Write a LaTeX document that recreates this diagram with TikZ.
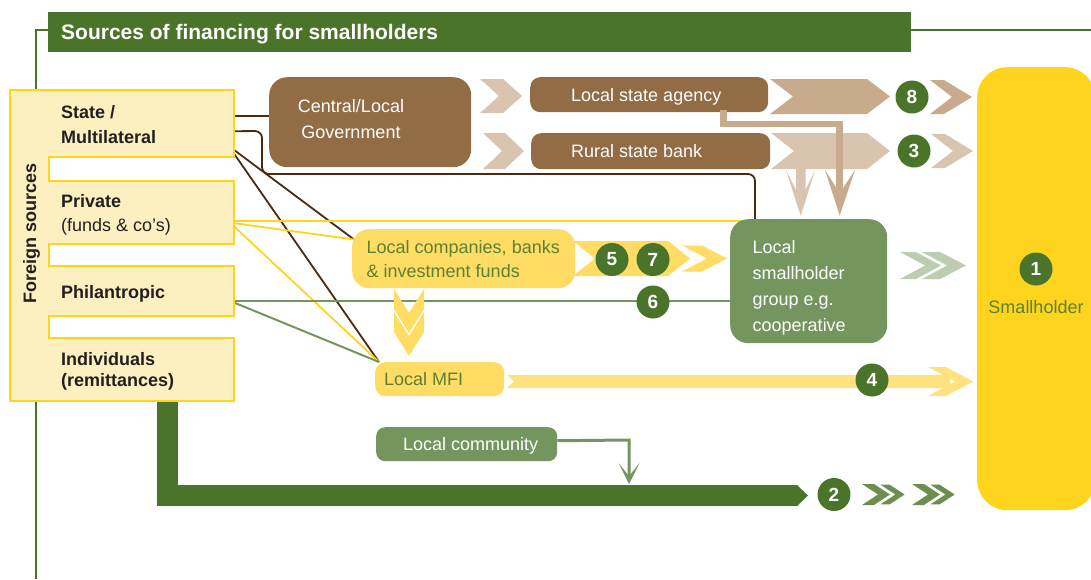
\documentclass[tikz,border=0pt]{standalone}
\usepackage{fontspec}
\setmainfont{Liberation Sans}
\definecolor{cDG}{HTML}{4A742A}
\definecolor{cMG}{HTML}{74965E}
\definecolor{cLG}{HTML}{BCCDB1}
\definecolor{cCG}{HTML}{6C8F50}
\definecolor{cBr}{HTML}{916C44}
\definecolor{cDT}{HTML}{C8AB8C}
\definecolor{cLT}{HTML}{D9C5AF}
\definecolor{cDB}{HTML}{4B2A0F}
\definecolor{cY}{HTML}{FED41E}
\definecolor{cLY}{HTML}{FDF0C0}
\definecolor{cGold}{HTML}{FFDC64}
\definecolor{cPale}{HTML}{FFE27E}
\definecolor{cGT}{HTML}{5C8034}
\definecolor{cTxt}{HTML}{231F20}
\pgfdeclarelayer{bg}
\pgfsetlayers{bg,main}
\begin{document}
\begin{tikzpicture}[x=1pt,y=-1pt,
  every node/.style={font=\fontsize{18}{22}\selectfont},
  boxnode/.style={anchor=north west, inner sep=0pt, draw=none},
  srcnode/.style={anchor=north west, inner sep=0pt, minimum width=185pt},
  wtext/.style={text=white, inner sep=0pt, anchor=base west},
  gtext/.style={text=cGT, inner sep=0pt, anchor=base west},
  btext/.style={text=cTxt, inner sep=0pt, anchor=base west, font=\bfseries\fontsize{18}{22}\selectfont},
  rtext/.style={text=cTxt, inner sep=0pt, anchor=base west},
  num/.style={circle, fill=cDG, text=white, font=\bfseries\fontsize{19}{19}\selectfont, minimum size=33pt, inner sep=0pt},
  brownline/.style={draw=cDB, line width=1.8pt},
  yline/.style={draw=cY, line width=1.8pt},
  gline/.style={draw=cMG, line width=2pt},
  frameline/.style={draw=cDG, line width=2pt},
  chevw/.style={draw=white, line width=1.2pt, line join=miter}
]
\useasboundingbox (0,0) rectangle (1091,579);

% frame line
\coordinate (frameA) at (35.5,579);
\coordinate (frameB) at (35.5,29.5);
\coordinate (frameC) at (1091,29.5);
\draw[frameline] (frameA) -- (frameB) -- (frameC);

% title bar
\node[boxnode, fill=cDG, minimum width=863pt, minimum height=40pt] (title) at (48,12) {};
\node[wtext, font=\bfseries\fontsize{21}{24}\selectfont] (titleT) at (61,39.5) {Sources of financing for smallholders};

% foreign sources block
\draw[fill=cLY, draw=cY, line width=2pt] (10,90) -- (234,90) -- (234,157) -- (49,157) -- (49,181) -- (234,181) -- (234,244) -- (49,244) -- (49,266) -- (234,266) -- (234,316) -- (49,316) -- (49,338) -- (234,338) -- (234,401) -- (10,401) -- cycle;
\node[srcnode, minimum height=67pt] (state) at (49,90) {};
\node[srcnode, minimum height=63pt] (private) at (49,181) {};
\node[srcnode, minimum height=50pt] (phil) at (49,266) {};
\node[srcnode, minimum height=63pt] (indiv) at (49,338) {};
\node[btext, anchor=base, rotate=90] (foreignT) at (36,233) {Foreign sources};
\node[btext] (stateT1) at (61,118.3) {State /};
\node[btext] (stateT2) at (61,143.3) {Multilateral};
\node[btext] (privT1) at (61,207.7) {Private};
\node[rtext] (privT2) at (61,231) {(funds \& co’s)};
\node[btext] (philT) at (61,298.3) {Philantropic};
\node[btext] (indivT1) at (61,365) {Individuals};
\node[btext] (indivT2) at (61,386) {(remittances)};

% boxes
\node[boxnode, fill=cBr, rounded corners=18pt, minimum width=202pt, minimum height=90pt] (gov) at (269,77) {};
\node[wtext, anchor=base] (govT1) at (351,112) {Central/Local};
\node[wtext, anchor=base] (govT2) at (351,138) {Government};
\node[boxnode, fill=cBr, rounded corners=10pt, minimum width=238pt, minimum height=35pt] (lsa) at (530,77) {};
\node[wtext] (lsaT) at (571,101) {Local state agency};
\node[boxnode, fill=cBr, rounded corners=10pt, minimum width=239pt, minimum height=36pt] (rsb) at (531,133) {};
\node[wtext] (rsbT) at (571,157.5) {Rural state bank};
\node[boxnode, fill=cGold, rounded corners=17pt, minimum width=223pt, minimum height=59pt] (comp) at (352,229) {};
\node[gtext] (compT1) at (366.5,253) {Local companies, banks};
\node[gtext] (compT2) at (366.5,277) {\& investment funds};
\node[boxnode, fill=cGold, rounded corners=10pt, minimum width=129pt, minimum height=34pt] (mfi) at (375,362) {};
\node[gtext] (mfiT) at (384,385) {Local MFI};
\node[boxnode, fill=cMG, rounded corners=18pt, minimum width=157pt, minimum height=124pt] (group) at (730,219) {};
\node[wtext] (groupT1) at (752.5,253) {Local};
\node[wtext] (groupT2) at (752.5,279) {smallholder};
\node[wtext] (groupT3) at (752.5,305) {group e.g.};
\node[wtext] (groupT4) at (752.5,331) {cooperative};
\node[boxnode, fill=cMG, rounded corners=9pt, minimum width=181pt, minimum height=34pt] (comm) at (376,427) {};
\node[wtext] (commT) at (403,450) {Local community};
\node[boxnode, fill=cY, rounded corners=30pt, minimum width=118pt, minimum height=443pt] (small) at (977,67) {};
\node[gtext, anchor=base] (smallT) at (1036,313) {Smallholder};

% chevrons row 1 / row 2
\fill[cLT] (480,79) -- (503,79) -- (522,96) -- (503,113) -- (480,113) -- (499,96) -- cycle;
\fill[cLT] (483,133) -- (505,133) -- (524,151) -- (505,169) -- (483,169) -- (502,151) -- cycle;
\fill[cDT] (770,79) -- (867,79) -- (890,96.5) -- (867,114) -- (770,114) -- (793,96.5) -- cycle;
\fill[cDT] (930,80) -- (944,80) -- (972,97) -- (944,114) -- (930,114) -- (952,97) -- cycle;
\fill[cLT] (771,133) -- (867,133) -- (890,151) -- (867,169) -- (771,169) -- (794,151) -- cycle;
\fill[cLT] (931,134) -- (945,134) -- (973,151) -- (945,168) -- (931,168) -- (953,151) -- cycle;
% down arrow from rural band
\fill[cLT] (796,168) -- (796,190) -- (786,170) -- (800.7,216) -- (815,170) -- (805.5,190) -- (805.5,168) -- cycle;
% dark tan connector from local state agency
\coordinate (tanbend) at (839.7,124);
\draw[cDT, line width=6.5pt, line join=miter] ([xshift=74.5pt,yshift=2pt]lsa.south) |- (tanbend) -- (839.7,190);
\fill[cDT] (836.5,188) -- (825,170) -- (839.7,215.5) -- (855,170) -- (843,188) -- cycle;

% companies -> group arrow
\fill[cGold] (573,241) -- (668,241) -- (690,258.5) -- (668,276) -- (573,276) -- (595,258.5) -- cycle;
\fill[cGold] (682,245.5) -- (702,245.5) -- (727,258.5) -- (702,271.5) -- (682,271.5) -- (707,258.5) -- cycle;
% companies -> MFI chevrons
\fill[cGold] (394,289) -- (409,313) -- (424,289) -- (424,309) -- (409,333) -- (394,309) -- cycle;
\fill[cGold] (394,312) -- (409,336) -- (424,312) -- (424,332) -- (409,356) -- (394,332) -- cycle;
% MFI -> smallholder arrow
\fill[cPale] (507,375) -- (950,375) -- (950,388) -- (507,388) -- (514,381.5) -- cycle;
\fill[cPale] (928,367) -- (946,367) -- (973,381.5) -- (946,396) -- (928,396) -- (955,381.5) -- cycle;
% group -> smallholder double chevron
\fill[cLG] (900,252) -- (916,252) -- (941,265.5) -- (916,279) -- (900,279) -- (925,265.5) -- cycle;
\filldraw[fill=cLG, chevw] (922,252) -- (940,252) -- (966,265.5) -- (940,279) -- (922,279) -- (947,265.5) -- cycle;
\fill[cLG] (922,252) -- (940,252) -- (966,265.5) -- (940,279) -- (922,279) -- (947,265.5) -- cycle;
% double chevrons after 2
\fill[cCG] (862,484) -- (874,484) -- (890,494.5) -- (874,505) -- (862,505) -- (878,494.5) -- cycle;
\filldraw[fill=cCG, chevw] (878,484) -- (890,484) -- (906,494.5) -- (890,505) -- (878,505) -- (894,494.5) -- cycle;
\fill[cCG] (912,484) -- (924,484) -- (940,494.5) -- (924,505) -- (912,505) -- (928,494.5) -- cycle;
\filldraw[fill=cCG, chevw] (928,484) -- (940,484) -- (956,494.5) -- (940,505) -- (928,505) -- (944,494.5) -- cycle;

% local community connector
\coordinate (commbend) at (629,440);
\draw[cMG, line width=3pt, line join=miter] ([yshift=3.5pt]comm.east) -- (commbend) -- (629,475);
\fill[cMG] (627.3,474) -- (618.5,463) -- (629,484) -- (639.5,463) -- (630.7,474) -- cycle;

% numbers
\node[num] (n1) at (1036,269) {1};
\node[num] (n2) at (834,494.5) {2};
\node[num] (n3) at (914,151) {3};
\node[num] (n4) at (872,380) {4};
\node[num] (n5) at (612,259.5) {5};
\node[num] (n6) at (653,302) {6};
\node[num] (n7) at (653,259.5) {7};
\node[num] (n8) at (912,97) {8};

\coordinate (c2end) at (798,495.5);
\coordinate (compin) at (354,239.5);
\coordinate (mfiin) at (379,362);
\begin{pgfonlayer}{bg}
  % thick green remittance path
  \draw[cDG, line width=21pt, line join=miter] ([xshift=26pt]indiv.south) |- (c2end);
  \fill[cDG] (797,485) -- (808,495.5) -- (797,506) -- cycle;
  % brown lines
  \draw[brownline] ([yshift=7.5pt]state.east) -- ([yshift=7.5pt]state.east -| gov.west);
  \draw[brownline, rounded corners=7pt] ([yshift=-7.5pt]state.east) -- (262,131) -- (262,174) -- (755,174) -- ([xshift=25pt]group.north west);
  \draw[brownline] ([yshift=-26.5pt]state.east) -- (compin);
  \draw[brownline] ([yshift=-30.5pt]state.east) -- (mfiin);
  % yellow lines
  \draw[yline] ([yshift=-8.5pt]private.east) -- ([yshift=-8.5pt]private.east -| group.north);
  \draw[yline] ([yshift=-10.5pt]private.east) -- (compin);
  \draw[yline] ([yshift=-14pt]private.east) -- (mfiin);
  % green lines
  \draw[gline] ([yshift=-10pt]phil.east) -- ([yshift=-10pt]phil.east -| group.center);
  \draw[gline] ([yshift=-11.5pt]phil.east) -- (mfiin);
\end{pgfonlayer}
\end{tikzpicture}
\end{document}
